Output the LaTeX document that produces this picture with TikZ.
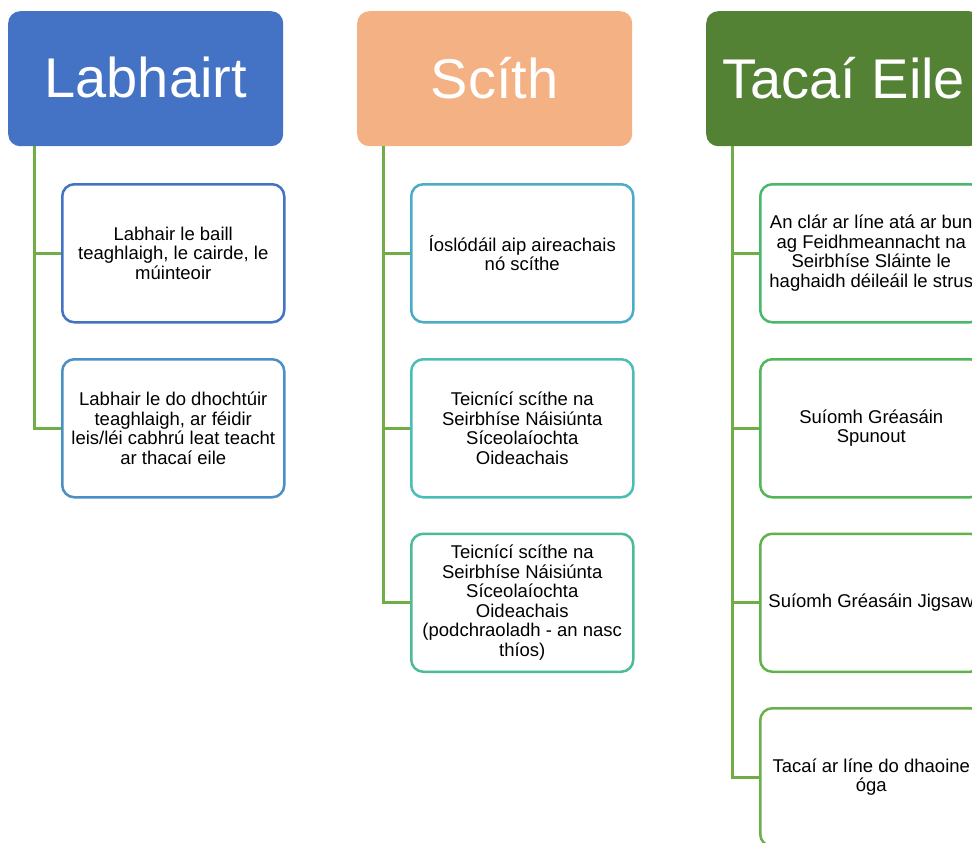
\documentclass[tikz,border=0pt]{standalone}
\usepackage{fontspec}
\setmainfont{Liberation Sans}
\definecolor{hblue}{HTML}{4472C4}
\definecolor{horange}{HTML}{F4B183}
\definecolor{hgreen}{HTML}{548235}
\definecolor{conn}{HTML}{70AD47}
\definecolor{bA}{HTML}{4472C4}
\definecolor{bB}{HTML}{4A8FC6}
\definecolor{bC}{HTML}{4AACC6}
\definecolor{bD}{HTML}{4ABDB4}
\definecolor{bE}{HTML}{4CBC92}
\definecolor{bF}{HTML}{4AB86C}
\definecolor{bG}{HTML}{52B558}
\definecolor{bH}{HTML}{62B24C}
\definecolor{bI}{HTML}{6AB04A}
\begin{document}
\begin{tikzpicture}[x=1pt,y=-1pt,
  head/.style={rectangle, rounded corners=12pt, minimum width=275pt, minimum height=135pt,
    inner sep=0pt, text=white, font=\fontsize{56}{60}\selectfont, anchor=north west},
  leaf/.style={draw=#1, line width=2.5pt, rounded corners=12pt, fill=white,
    minimum width=222pt, minimum height=138pt, anchor=north west, align=center,
    font=\fontsize{18.5}{19.5}\selectfont, text=black, inner sep=0pt},
  link/.style={draw=conn, line width=3pt}]
\useasboundingbox (0,0) rectangle (972,843);
\clip (0,0) rectangle (972,843);

% headers
\node[head, fill=hblue] (h1) at (8,11) {\raisebox{2pt}{Labhairt}};
\node[head, fill=horange] (h2) at (357,11) {\raisebox{2pt}{Scíth}};
\node[head, fill=hgreen] (h3) at (706,11) {\raisebox{2pt}{Tacaí Eile}};

% column 1
\node[leaf=bA] (c11) at (61,183) {Labhair le baill\\teaghlaigh, le cairde, le\\múinteoir};
\node[leaf=bB] (c12) at (61,358) {Labhair le do dhochtúir\\teaghlaigh, ar féidir\\leis/léi cabhrú leat teacht\\ar thacaí eile};

% column 2
\node[leaf=bC] (c21) at (410,183) {Íoslódáil aip aireachais\\nó scíthe};
\node[leaf=bD] (c22) at (410,358) {Teicnící scíthe na\\Seirbhíse Náisiúnta\\Síceolaíochta\\Oideachais};
\node[leaf=bE] (c23) at (410,532.5) {Teicnící scíthe na\\Seirbhíse Náisiúnta\\Síceolaíochta\\Oideachais\\(podchraoladh - an nasc\\thíos)};

% column 3
\node[leaf=bF] (c31) at (759,183) {An clár ar líne atá ar bun\\ag Feidhmeannacht na\\Seirbhíse Sláinte le\\haghaidh déileáil le strus};
\node[leaf=bG] (c32) at (759,358) {Suíomh Gréasáin\\Spunout};
\node[leaf=bH] (c33) at (759,532.5) {Suíomh Gréasáin Jigsaw};
\node[leaf=bI] (c34) at (759,707) {Tacaí ar líne do dhaoine\\óga};

% connectors
\foreach \h/\c in {h1/c11,h1/c12,h2/c21,h2/c22,h2/c23,h3/c31,h3/c32,h3/c33,h3/c34}
  \draw[link] ([xshift=26pt]\h.south west) |- (\c.west);
\end{tikzpicture}
\end{document}
